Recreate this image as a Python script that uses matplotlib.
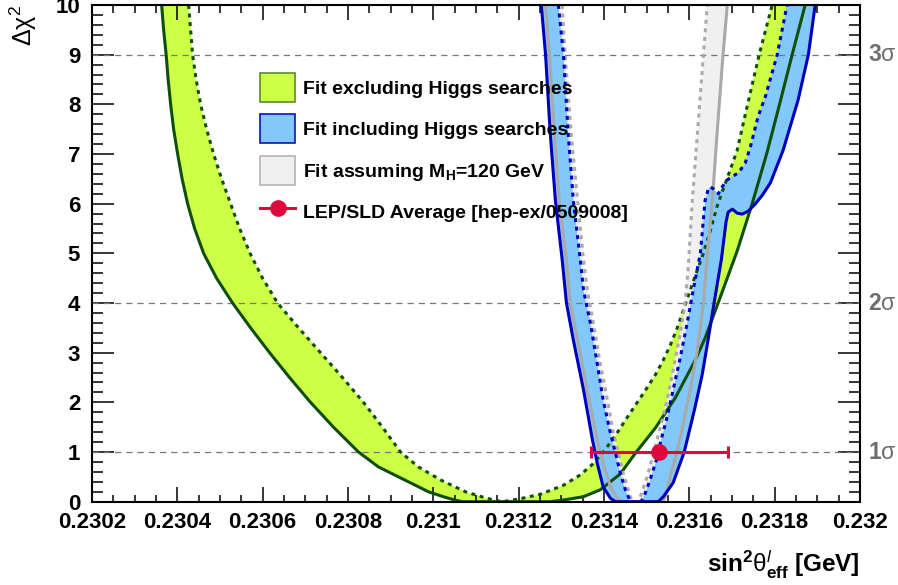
import numpy as np
import matplotlib
matplotlib.use('Agg')
import matplotlib.pyplot as plt
from matplotlib.patches import Patch
from matplotlib.lines import Line2D
from matplotlib.ticker import MultipleLocator, FuncFormatter
from matplotlib.transforms import blended_transform_factory

plt.rcParams['font.family'] = ['Liberation Sans', 'DejaVu Sans']
plt.rcParams['font.weight'] = 'bold'
plt.rcParams['mathtext.fontset'] = 'custom'
plt.rcParams['mathtext.rm'] = 'Liberation Sans:weight=normal'
plt.rcParams['mathtext.it'] = 'Liberation Sans:italic:weight=normal'
plt.rcParams['mathtext.bf'] = 'Liberation Sans:bold'
plt.rcParams['mathtext.sf'] = 'Liberation Sans:weight=normal'

# ---------------- data ----------------
# Fit excluding Higgs searches: lower envelope (solid) and upper envelope (dotted)
excl_lo_x = [0.2303632, 0.2303679, 0.2303738, 0.2303785, 0.2303843, 0.2303913, 0.2304007,
             0.2304112, 0.2304241, 0.2304405, 0.2304616, 0.2304920, 0.2305295, 0.2305717,
             0.2306162, 0.2306630, 0.2307122, 0.2307660, 0.2308246, 0.2308714, 0.2309464,
             0.2309885, 0.2310237, 0.2310518, 0.2310682, 0.2312742, 0.2313094, 0.2313515,
             0.2313913, 0.2314382, 0.2314756, 0.2315201, 0.2315670, 0.2316138, 0.2316372,
             0.2316653, 0.2316888, 0.2317122, 0.2317473, 0.2317824, 0.2318129, 0.2318410,
             0.2318714]
excl_lo_y = [10.0, 9.5, 9.0, 8.5, 8.0, 7.5, 7.0, 6.5, 6.0, 5.5, 5.0, 4.5, 4.0, 3.5, 3.0,
             2.5, 2.0, 1.5, 1.0, 0.7, 0.38, 0.2, 0.1, 0.03, 0.0, 0.0, 0.04, 0.1, 0.24, 0.56,
             1.0, 1.48, 2.09, 2.85, 3.3, 3.95, 4.5, 5.05, 6.0, 7.04, 8.05, 9.0, 10.0]
excl_hi_x = [0.2304265, 0.2304311, 0.2304358, 0.2304440, 0.2304546, 0.2304686, 0.2304850,
             0.2305037, 0.2305248, 0.2305459, 0.2305705, 0.2305998, 0.2306349, 0.2306841,
             0.2307356, 0.2307871, 0.2308363, 0.2308808, 0.2309230, 0.2309651, 0.2310166,
             0.2310752, 0.2311150, 0.2311431, 0.2311618, 0.2312040, 0.2312508, 0.2313047,
             0.2313445, 0.2313726, 0.2313984, 0.2314265, 0.2314546, 0.2314780, 0.2315014,
             0.2315201, 0.2315389, 0.2315553, 0.2315717, 0.2315857, 0.2315998, 0.2316138,
             0.2316302, 0.2316490, 0.2316653, 0.2316817, 0.2316958, 0.2317122, 0.2317379,
             0.2317637, 0.2317941]
excl_hi_y = [10.0, 9.5, 9.0, 8.5, 8.0, 7.5, 7.0, 6.5, 6.0, 5.5, 5.0, 4.5, 4.0, 3.5, 3.0,
             2.5, 2.0, 1.5, 1.0, 0.7, 0.44, 0.2, 0.095, 0.03, 0.0, 0.06, 0.15, 0.33, 0.54,
             0.75, 1.0, 1.33, 1.7, 2.0, 2.3, 2.55, 2.85, 3.15, 3.5, 3.85, 4.2, 4.55, 4.93,
             5.45, 5.95, 6.35, 6.68, 7.08, 8.05, 9.0, 10.0]

# Fit including Higgs searches
incl_lo_x = [0.231253, 0.231263, 0.231274, 0.231286, 0.231302, 0.231312, 0.231328, 0.231352,
             0.231373, 0.231384, 0.231398, 0.231415, 0.231427, 0.231527, 0.231539, 0.231562,
             0.231588, 0.231612, 0.231630, 0.231644, 0.231658, 0.231675, 0.231686, 0.231691,
             0.231701, 0.231712, 0.231724, 0.231738, 0.231754, 0.231771, 0.231790, 0.231820,
             0.231855, 0.231879, 0.231895]
incl_lo_y = [10.0, 9.0, 7.42, 6.07, 4.87, 4.0, 3.26, 2.25, 1.24, 0.78, 0.3, 0.07, 0.0, 0.0,
             0.1, 0.38, 1.0, 1.85, 2.55, 3.26, 4.0, 4.87, 5.63, 5.83, 5.89, 5.81, 5.79, 5.85,
             5.99, 6.17, 6.42, 7.08, 8.09, 9.0, 10.0]
incl_hi_x = [0.231293, 0.231305, 0.231316, 0.231328, 0.231345, 0.231352, 0.231368, 0.231384,
             0.231398, 0.231415, 0.231427, 0.231438, 0.231450, 0.231462, 0.231487, 0.231497,
             0.231508, 0.231525, 0.231532, 0.231548, 0.231562, 0.231579, 0.231595, 0.231609,
             0.231626, 0.231637, 0.231644, 0.231649, 0.231656, 0.231668, 0.231677, 0.231689,
             0.231703, 0.231715, 0.231731, 0.231743, 0.231761, 0.231778, 0.231806, 0.231829]
incl_hi_y = [10.0, 9.0, 7.42, 6.07, 4.83, 4.26, 3.6, 2.79, 2.05, 1.38, 0.98, 0.58, 0.24, 0.0,
             0.0, 0.18, 0.44, 0.9, 1.18, 1.71, 2.25, 2.91, 3.6, 4.26, 5.01, 6.07, 6.28, 6.34,
             6.3, 6.2, 6.34, 6.48, 6.56, 6.62, 6.82, 7.14, 7.75, 8.15, 9.0, 10.0]

# Fit assuming M_H = 120 GeV
mh120_lo_x = [0.231263, 0.231272, 0.231284, 0.231295, 0.231312, 0.231321, 0.231338, 0.231361,
              0.231384, 0.231398, 0.231415, 0.231431, 0.231443, 0.231537, 0.231544, 0.231555,
              0.231572, 0.231586, 0.231602, 0.231619, 0.231633, 0.231642, 0.231654, 0.231665,
              0.231679, 0.231689]
mh120_lo_y = [10.0, 9.0, 7.42, 6.07, 4.87, 4.0, 3.26, 2.25, 1.24, 0.78, 0.3, 0.07, 0.0, 0.0,
              0.1, 0.5, 1.04, 1.58, 2.25, 3.06, 4.0, 4.97, 6.07, 7.42, 9.0, 10.0]
mh120_hi_x = [0.231302, 0.231309, 0.231323, 0.231338, 0.231352, 0.231361, 0.231375, 0.231391,
              0.231408, 0.231422, 0.231434, 0.231445, 0.231457, 0.231466, 0.231476, 0.231485,
              0.231501, 0.231516, 0.231532, 0.231548, 0.231562, 0.231579, 0.231590, 0.231597,
              0.231607, 0.231619, 0.231633, 0.231642]
mh120_hi_y = [10.0, 9.0, 7.42, 6.07, 4.87, 4.26, 3.6, 2.79, 2.05, 1.38, 0.98, 0.58, 0.24, 0.0,
              0.0, 0.1, 0.5, 0.98, 1.5, 2.05, 2.65, 3.4, 4.0, 4.66, 6.07, 7.42, 9.0, 10.0]

# LEP/SLD average
lep_x = [0.23153]
lep_y = [1.0]
lep_err = [0.00016]

sigma_levels = [1, 4, 9]
sigma_labels = [r'1$\mathrm{\sigma}$', r'2$\mathrm{\sigma}$', r'3$\mathrm{\sigma}$']

x_ticks = [0.2302, 0.2304, 0.2306, 0.2308, 0.2310, 0.2312, 0.2314, 0.2316, 0.2318, 0.2320]
y_ticks = [0, 1, 2, 3, 4, 5, 6, 7, 8, 9, 10]

legend_labels = ['Fit excluding Higgs searches',
                 'Fit including Higgs searches',
                 r'Fit assuming $\mathbf{M_{H}}$=120 GeV',
                 'LEP/SLD Average [hep-ex/0509008]']

x_title = r'$\mathbf{sin}^{\mathbf{2}}\mathrm{\theta}^{\mathit{l}}_{\mathbf{eff}}\ \mathbf{[GeV]}$'
y_title = r'$\mathrm{\Delta\chi^{2}}$'

# ---------------- style ----------------
green_fill = '#cdff47'
green_line = '#0f4f0a'
blue_fill = '#82c8fa'
blue_line = '#0000bb'
gray_fill = '#f0f0f0'
gray_line = '#a9a9a9'
red = '#dc0a3c'

fig = plt.figure(figsize=(8.98, 5.85), dpi=100)
ax = fig.add_axes([92 / 898, 1 - 501.7 / 585, 768 / 898, 496.7 / 585])

def band(lo_x, lo_y, hi_x, hi_y):
    xs = np.concatenate([np.asarray(lo_x), np.asarray(hi_x)[::-1]])
    ys = np.concatenate([np.asarray(lo_y), np.asarray(hi_y)[::-1]])
    return xs, ys

for (lx, ly, hx, hy), fc, z in [((excl_lo_x, excl_lo_y, excl_hi_x, excl_hi_y), green_fill, 1),
                                ((mh120_lo_x, mh120_lo_y, mh120_hi_x, mh120_hi_y), gray_fill, 2),
                                ((incl_lo_x, incl_lo_y, incl_hi_x, incl_hi_y), blue_fill, 3)]:
    bx, by = band(lx, ly, hx, hy)
    ax.fill(bx, by, facecolor=fc, edgecolor='none', zorder=z)

for y in sigma_levels:
    ax.axhline(y, color='#777777', lw=0.9, ls=(0, (5, 4)), zorder=4)

dot = (0, (1.3, 1.5))
lw = 2.2
ax.plot(excl_lo_x, excl_lo_y, color=green_line, lw=lw, zorder=5)
ax.plot(excl_hi_x, excl_hi_y, color=green_line, lw=lw, ls=dot, zorder=5)
ax.plot(mh120_lo_x, mh120_lo_y, color=gray_line, lw=lw, zorder=6)
ax.plot(mh120_hi_x, mh120_hi_y, color=gray_line, lw=lw, ls=dot, zorder=6)
ax.plot(incl_lo_x, incl_lo_y, color=blue_line, lw=lw, zorder=7)
ax.plot(incl_hi_x, incl_hi_y, color=blue_line, lw=lw, ls=dot, zorder=7)

ax.errorbar(lep_x, lep_y, xerr=lep_err, fmt='o', color=red, ms=11, elinewidth=2.2,
            capsize=4.3, capthick=2.2, zorder=10)

ax.set_xlim(0.2302, 0.2320)
ax.set_ylim(0, 10)
ax.set_xticks(x_ticks)
ax.set_yticks(y_ticks)
ax.xaxis.set_major_formatter(FuncFormatter(lambda v, p: '%g' % v))
ax.xaxis.set_minor_locator(MultipleLocator(0.00005))
ax.yaxis.set_minor_locator(MultipleLocator(0.2))

ax.tick_params(axis='x', which='major', direction='in', length=10.8, width=1.1,
               top=True, bottom=True, labelsize=16, pad=7.5)
ax.tick_params(axis='x', which='minor', direction='in', length=5.4, width=1.1,
               top=True, bottom=True)
ax.tick_params(axis='y', which='major', direction='in', length=15.8, width=1.1,
               left=True, right=True, labelsize=16, pad=8.5)
ax.tick_params(axis='y', which='minor', direction='in', length=7.9, width=1.1,
               left=True, right=True)
for s in ax.spines.values():
    s.set_linewidth(1.5)
    s.set_zorder(12)

ax.set_xlabel(x_title, loc='right', fontsize=17.5, labelpad=11)
ax.set_ylabel(y_title, loc='top', fontsize=18, fontweight='normal', labelpad=12)

trans = blended_transform_factory(ax.transAxes, ax.transData)
for y, lab in zip(sigma_levels, sigma_labels):
    ax.text(1.0104, y, lab, transform=trans, ha='left', va='center', color='#6e6e6e',
            fontsize=16.5, fontweight='bold', clip_on=False)

handles = [Patch(facecolor=green_fill, edgecolor='#5b8c2a', lw=1.2),
           Patch(facecolor=blue_fill, edgecolor='#1010c0', lw=1.2),
           Patch(facecolor=gray_fill, edgecolor='#b4b4b4', lw=1.2),
           Line2D([], [], color=red, lw=2.2, marker='o', ms=11)]
leg = ax.legend(handles, legend_labels, loc='upper left', bbox_to_anchor=(0.21875, 0.8631),
                frameon=False, fontsize=14, handlelength=1.8, handleheight=1.918,
                handletextpad=0.41, labelspacing=0.64, borderpad=0, borderaxespad=0,
                numpoints=1)
leg.set_zorder(20)

fig.savefig('out.png', dpi=100)
